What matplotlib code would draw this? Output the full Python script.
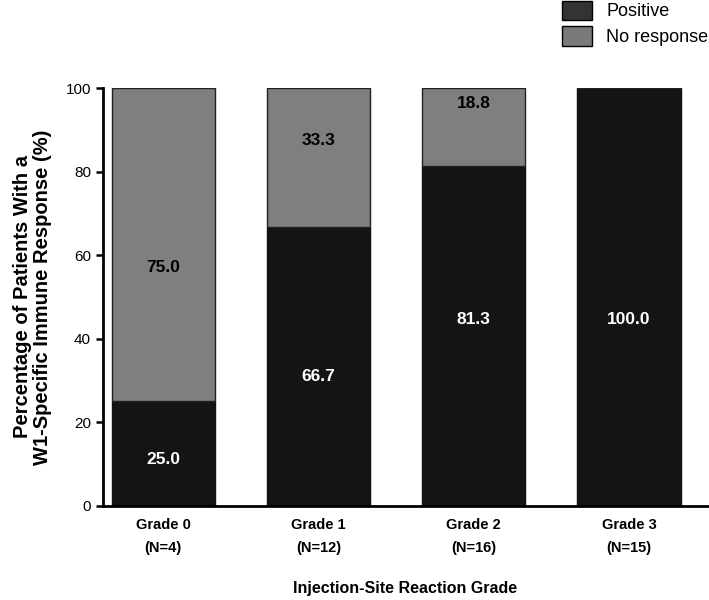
import matplotlib
matplotlib.use("Agg")
import matplotlib.pyplot as plt
from matplotlib.patches import Patch

plt.rcParams["font.family"] = ["Liberation Sans", "DejaVu Sans"]

# --- data ---
grades = ["Grade 0\n(N=4)", "Grade 1\n(N=12)", "Grade 2\n(N=16)", "Grade 3\n(N=15)"]
positive = [25.0, 66.7, 81.3, 100.0]
no_response = [75.0, 33.3, 18.8, 0.0]

# label heights (layout only, as placed in the original)
pos_label_y = [11.0, 31.0, 44.5, 44.5]
neg_label_y = [57.0, 87.5, 96.4, None]

fig = plt.figure(figsize=(7.09, 6.0), dpi=100)
ax = fig.add_axes([0.145, 0.157, 0.854, 0.696])

xs = list(range(len(grades)))
w = 0.665
ax.bar(xs, positive, width=w, color="#141414", edgecolor="#111111", linewidth=1)
ax.bar(xs, no_response, width=w, bottom=positive, color="#7f7f7f",
       edgecolor="#222222", linewidth=1)

for x, v, y in zip(xs, positive, pos_label_y):
    ax.text(x, y, f"{v:.1f}", ha="center", va="center", color="white",
            fontsize=12.5, fontweight="bold")
for x, v, y in zip(xs, no_response, neg_label_y):
    if v > 0:
        ax.text(x, y, f"{v:.1f}", ha="center", va="center", color="black",
                fontsize=12.5, fontweight="bold")

ax.set_xlim(-0.39, 3.51)
ax.set_ylim(0, 100)
ax.set_yticks([0, 20, 40, 60, 80, 100])
ax.set_xticks(xs)
ax.set_xticklabels(grades, fontsize=10.5, fontweight="bold", linespacing=1.75)
ax.tick_params(axis="y", labelsize=11, width=1.8, length=5)
ax.tick_params(axis="x", length=0, pad=9)
for s in ("top", "right"):
    ax.spines[s].set_visible(False)
for s in ("left", "bottom"):
    ax.spines[s].set_linewidth(2)

ax.set_ylabel("Percentage of Patients With a\nW1-Specific Immune Response (%)",
              fontsize=14.5, fontweight="bold", labelpad=10, linespacing=1.05)
ax.set_xlabel("Injection-Site Reaction Grade", fontsize=11.5, fontweight="bold",
              labelpad=19)

handles = [Patch(facecolor="#333333", edgecolor="black", label="Positive"),
           Patch(facecolor="#7a7a7a", edgecolor="black", label="No response")]
fig.legend(handles=handles, loc="upper left", bbox_to_anchor=(562 / 709, 0.999),
           frameon=False, fontsize=13, handlelength=1.67, handleheight=1.3,
           labelspacing=0.3, handletextpad=0.78, borderpad=0, borderaxespad=0)

fig.savefig("out.png", dpi=100)
